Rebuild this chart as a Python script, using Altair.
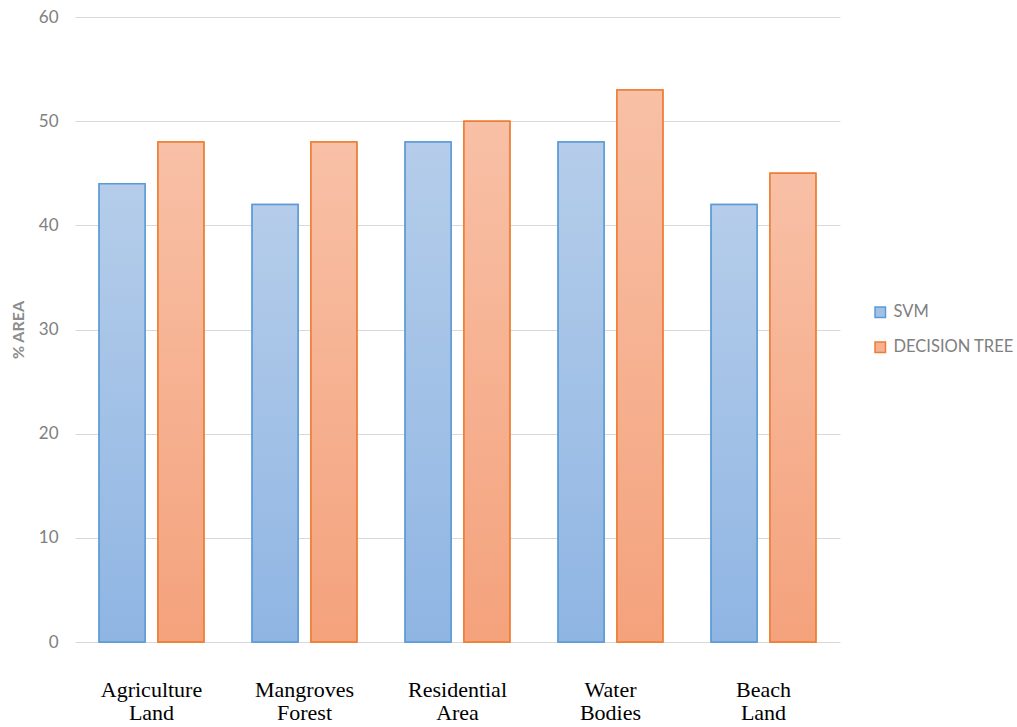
import altair as alt
import pandas as pd

categories = ["Agriculture Land", "Mangroves Forest", "Residential Area", "Water Bodies", "Beach Land"]
series = ["SVM", "DECISION TREE"]
svm = [44, 42, 48, 48, 42]
dtree = [48, 48, 50, 53, 45]

rows = []
for c, a, b in zip(categories, svm, dtree):
    rows.append({"cat": c, "series": "SVM", "value": a})
    rows.append({"cat": c, "series": "DECISION TREE", "value": b})
df = pd.DataFrame(rows)

blue_grad = alt.Gradient(gradient="linear", x1=0, x2=0, y1=0, y2=1,
                         stops=[alt.GradientStop(color="#b5cdea", offset=0),
                                alt.GradientStop(color="#8fb5e3", offset=1)])
orange_grad = alt.Gradient(gradient="linear", x1=0, x2=0, y1=0, y2=1,
                           stops=[alt.GradientStop(color="#f8c0a6", offset=0),
                                  alt.GradientStop(color="#f4a27c", offset=1)])

x_enc = alt.X("cat:N", sort=categories, title=None,
              scale=alt.Scale(paddingInner=0, paddingOuter=0),
              axis=alt.Axis(labelExpr="split(datum.label, ' ')", labelAngle=0,
                            labelFont="Liberation Serif", labelFontSize=22,
                            labelColor="#000000", labelPadding=37, labelLineHeight=23,
                            ticks=False, domain=False, grid=False))
xo_enc = alt.XOffset("series:N", sort=series,
                     scale=alt.Scale(paddingInner=0.22, paddingOuter=0.41))
y_enc = alt.Y("value:Q", title="% AREA",
              scale=alt.Scale(domain=[0, 60], nice=False),
              axis=alt.Axis(values=[0, 10, 20, 30, 40, 50, 60], domain=False, ticks=False,
                            labelFont="Lato", labelFontSize=17, labelColor="#808080",
                            labelPadding=17, gridColor="#d9d9d9", gridWidth=1,
                            titleFont="Lato", titleFontSize=16, titleColor="#8c8c8c",
                            titleFontWeight="bold", titlePadding=12))

base = alt.Chart(df).mark_bar(strokeWidth=1.5).encode(
    x=x_enc, xOffset=xo_enc, y=y_enc,
    color=alt.Color("series:N", sort=series, title=None,
                    scale=alt.Scale(domain=series, range=["#a3c1e7", "#f6b192"]),
                    legend=alt.Legend(orient="none", legendX=797, legendY=287,
                                      symbolType="square", symbolSize=110,
                                      symbolStrokeWidth=1.5, rowPadding=18,
                                      labelFont="Lato", labelFontSize=16.5,
                                      labelColor="#808080", labelOffset=5)),
    stroke=alt.Stroke("series:N", sort=series,
                      scale=alt.Scale(domain=series, range=["#5b9bd5", "#ed7d31"]),
                      legend=None),
)

svm_layer = alt.Chart(df).transform_filter(alt.datum.series == "SVM").mark_bar(
    fill=blue_grad, stroke="#5b9bd5", strokeWidth=1.5).encode(
    x=x_enc, xOffset=xo_enc, y=y_enc)
dt_layer = alt.Chart(df).transform_filter(alt.datum.series == "DECISION TREE").mark_bar(
    fill=orange_grad, stroke="#ed7d31", strokeWidth=1.5).encode(
    x=x_enc, xOffset=xo_enc, y=y_enc)

chart = alt.layer(base, svm_layer, dt_layer).properties(
    width=765, height=625,
    autosize=alt.AutoSizeParams(type="none"),
    padding={"left": 75, "top": 17, "right": 177, "bottom": 85},
).configure(background="#ffffff").configure_view(stroke=None)

chart.save("out.html", embed_options={"renderer": "svg", "actions": False})
